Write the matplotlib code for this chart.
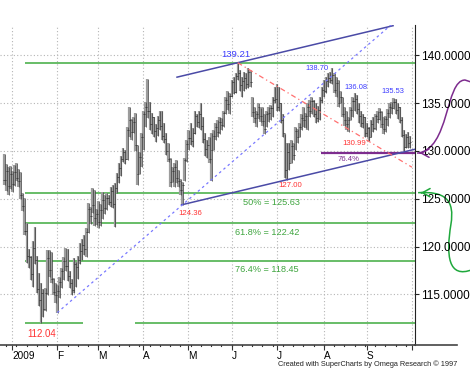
import numpy as np
import pandas as pd
import matplotlib
matplotlib.use("Agg")
import matplotlib.pyplot as plt
from matplotlib.path import Path
from matplotlib.patches import PathPatch
from matplotlib.lines import Line2D
from matplotlib.ticker import FormatStrFormatter, NullLocator

plt.rcdefaults()
plt.rcParams['font.family'] = ['Liberation Sans', 'DejaVu Sans']

# daily bars, late Dec 2008 -> end Sep 2009
dates = pd.bdate_range('2008-12-26', '2009-09-30')

highs = [
    129.7, 128.6, 128.3, 128.4, 127.9, 128.5, 128.7, 128.1, 127.8, 125.6,
    125.1, 122.5, 119.8, 119.0, 120.6, 122.0, 119.0, 117.2, 116.2, 115.6,
    115.7, 119.6, 119.6, 119.4, 116.7, 116.2, 116.0, 116.8, 117.8, 118.9,
    119.9, 119.8, 117.5, 116.6, 118.8, 118.4, 119.0, 120.4, 120.8, 121.2,
    121.9, 124.6, 124.1, 126.1, 125.9, 123.9, 124.8, 124.4, 125.7, 125.4,
    125.6, 125.4, 126.2, 126.4, 126.6, 127.7, 128.7, 129.5, 130.3, 130.1,
    132.5, 134.6, 133.3, 133.5, 134.0, 130.6, 129.9, 131.9, 134.2, 135.1,
    137.5, 135.1, 134.0, 133.5, 132.8, 133.6, 134.2, 134.2, 132.9, 131.9,
    130.8, 129.3, 128.3, 128.7, 129.0, 128.0, 127.1, 126.7, 129.3, 131.1,
    132.2, 132.9, 132.4, 134.2, 133.9, 134.2, 135.0, 133.5, 131.9, 131.1,
    131.4, 131.9, 132.2, 132.9, 133.2, 133.5, 133.4, 134.2, 135.6, 136.3,
    136.0, 137.4, 137.7, 138.1, 139.21, 138.4, 137.7, 138.2, 138.1, 138.7,
    138.4, 135.6, 134.6, 134.2, 135.0, 134.5, 134.6, 133.9, 134.2, 134.6,
    134.8, 135.6, 136.7, 137.0, 136.7, 135.0, 133.9, 131.8, 130.8, 130.8,
    131.1, 130.8, 132.5, 132.3, 132.9, 133.9, 134.6, 134.0, 135.0, 135.3,
    135.6, 135.3, 135.0, 134.7, 135.6, 136.7, 137.4, 137.7, 138.1, 138.2,
    138.70, 138.1, 137.7, 137.4, 136.3, 135.6, 134.6, 134.2, 133.5, 134.6,
    135.6, 136.08, 135.8, 135.0, 134.2, 133.9, 133.5, 132.9, 132.5, 133.2,
    133.5, 133.9, 134.2, 134.5, 134.2, 133.5, 133.6, 134.4, 135.0, 135.1,
    135.53, 135.4, 135.0, 134.6, 133.5, 132.2, 131.8, 132.0, 131.6,
]

lows = [
    126.4, 125.8, 125.4, 126.0, 125.7, 126.3, 126.8, 126.2, 125.0, 123.7,
    121.2, 118.3, 117.8, 116.5, 115.8, 118.2, 115.2, 113.8, 112.04, 112.6,
    113.3, 114.9, 116.8, 116.2, 114.9, 114.1, 113.1, 114.6, 115.7, 116.5,
    117.5, 116.4, 115.7, 114.9, 115.2, 115.8, 116.6, 118.2, 118.6, 119.1,
    118.9, 121.4, 122.4, 123.5, 122.2, 122.3, 121.9, 122.2, 122.9, 123.4,
    123.8, 124.3, 124.1, 124.0, 122.0, 125.6, 126.6, 127.4, 128.8, 128.6,
    129.0, 131.4, 131.1, 131.9, 130.0, 126.4, 127.6, 128.3, 130.1, 132.5,
    133.4, 132.2, 131.8, 131.4, 130.9, 131.6, 132.2, 131.1, 130.8, 129.6,
    128.8, 126.2, 126.7, 126.2, 126.6, 126.2, 125.4, 124.36, 126.8, 128.8,
    130.1, 130.6, 130.4, 131.8, 132.5, 132.4, 132.2, 130.8, 129.5, 129.3,
    128.7, 126.9, 130.1, 131.1, 131.4, 131.8, 132.2, 132.5, 133.9, 134.3,
    133.9, 135.6, 135.9, 136.0, 137.4, 136.3, 135.6, 136.3, 136.5, 136.6,
    136.7, 133.5, 132.9, 132.5, 133.3, 133.0, 132.6, 131.8, 132.5, 133.0,
    133.2, 133.5, 135.0, 134.2, 134.2, 132.9, 131.5, 127.2, 127.0, 128.0,
    128.7, 129.0, 130.1, 130.8, 131.4, 132.2, 132.5, 132.4, 132.2, 133.5,
    133.9, 133.5, 132.9, 133.0, 133.2, 135.0, 135.6, 136.0, 136.7, 137.1,
    137.0, 136.0, 135.6, 134.6, 135.0, 133.5, 132.6, 132.2, 132.0, 133.2,
    133.5, 134.2, 133.9, 132.9, 132.5, 132.4, 131.4, 131.5, 130.99, 131.4,
    132.0, 132.2, 132.9, 133.2, 132.4, 131.8, 132.0, 132.6, 133.4, 133.9,
    134.4, 133.9, 133.3, 132.9, 131.4, 130.0, 130.3, 130.3, 130.3,
]

closes = [
    127.0, 127.9, 126.3, 127.6, 126.5, 127.8, 127.2, 126.9, 125.4, 124.2,
    121.6, 119.0, 118.9, 117.1, 119.9, 118.6, 115.6, 114.4, 115.2, 113.5,
    115.1, 118.8, 117.6, 116.6, 115.3, 114.9, 115.4, 116.3, 117.4, 118.5,
    118.0, 116.9, 116.2, 115.5, 118.2, 117.9, 118.6, 119.5, 120.2, 119.8,
    121.5, 123.9, 123.2, 124.3, 123.0, 123.4, 122.6, 123.8, 124.9, 124.0,
    125.1, 124.7, 125.8, 124.5, 126.1, 127.3, 128.2, 129.1, 129.9, 129.2,
    132.2, 133.2, 132.0, 133.0, 130.6, 127.6, 129.4, 131.5, 133.8, 134.6,
    134.2, 132.8, 133.5, 132.1, 132.4, 133.2, 132.6, 131.6, 131.2, 130.0,
    129.1, 126.7, 127.9, 128.3, 127.2, 126.9, 125.9, 126.4, 129.0, 130.7,
    131.3, 131.0, 131.9, 133.6, 133.0, 133.8, 132.6, 131.2, 130.2, 130.6,
    129.2, 130.1, 131.6, 132.5, 132.0, 133.0, 132.7, 134.0, 135.3, 134.9,
    135.7, 137.2, 136.2, 137.8, 138.1, 136.9, 137.3, 137.6, 137.0, 138.2,
    137.2, 134.1, 133.4, 133.9, 134.6, 133.6, 133.1, 132.3, 133.8, 134.0,
    134.5, 135.3, 135.4, 134.6, 135.0, 133.2, 131.9, 128.0, 129.9, 128.7,
    130.5, 129.6, 132.1, 131.5, 132.5, 133.4, 133.2, 133.6, 134.6, 134.2,
    135.2, 133.9, 133.4, 134.3, 135.3, 136.4, 136.3, 137.3, 137.6, 137.4,
    137.9, 136.4, 137.1, 135.0, 135.6, 133.9, 133.2, 132.8, 133.2, 134.3,
    135.2, 135.4, 134.4, 133.6, 132.9, 133.5, 131.9, 132.4, 131.4, 132.8,
    132.4, 133.6, 133.3, 134.1, 132.8, 132.3, 133.3, 134.0, 134.6, 134.5,
    135.1, 134.3, 134.6, 133.2, 131.7, 130.4, 131.5, 130.8, 130.9,
]

# retracement levels and marked pivots
fib_levels = [139.21, 125.63, 122.42, 118.45]
fib_texts = ['', '50% = 125.63', '61.8% = 122.42', '76.4% = 118.45']
low_2009 = 112.04
purple_level = 129.76
blue_labels = ['139.21', '138.70', '136.08', '135.53']
red_labels = ['130.99', '127.00', '124.36', '112.04']
month_names = ['2009', 'F', 'M', 'A', 'M', 'J', 'J', 'A', 'S', '']
price_ticks = [115, 120, 125, 130, 135, 140]

df = pd.DataFrame({'high': highs, 'low': lows, 'close': closes}, index=dates)
df['open'] = df['close'].shift(1).fillna(df['close'])
x = np.arange(len(df))

fig = plt.figure(figsize=(4.70, 3.83), dpi=100, facecolor='white')
ax = fig.add_axes([0.0, 0.1005, 0.883, 0.834])
ax.set_facecolor('white')
XMIN, XMAX = -1.95, 200.5
YMIN, YMAX = 109.77, 143.14
ax.set_xlim(XMIN, XMAX)
ax.set_ylim(YMIN, YMAX)

# axes and ticks
month_idx = [int(np.argmax((dates.year == d.year) & (dates.month == d.month)))
             for d in pd.date_range('2009-01-01', '2009-09-01', freq='MS')] + [len(dates)]
ax.set_xticks(month_idx)
ax.set_xticklabels(month_names)
for lab in ax.get_xticklabels():
    lab.set_ha('left')
ax.xaxis.set_minor_locator(NullLocator())
ax.set_yticks(price_ticks)
ax.yaxis.set_minor_locator(NullLocator())
ax.yaxis.tick_right()
ax.yaxis.set_major_formatter(FormatStrFormatter('%.4f'))
ax.tick_params(axis='y', labelsize=8.5, length=3, pad=1.5, color='#222222')
ax.tick_params(axis='x', which='major', labelsize=7.2, length=3.5, pad=1, color='#333333')
ax.xaxis.grid(False, which='both')
ax.yaxis.grid(False, which='both')
for s in ['top', 'left']:
    ax.spines[s].set_visible(False)
ax.spines['right'].set_color('#222222')
ax.spines['bottom'].set_color('#444444')
ax.spines['bottom'].set_linewidth(1.2)
fig.add_artist(Line2D([0.883, 457 / 470], [0.1005, 0.1005], color='#444444', lw=1.2))

# weekly tick marks under the date axis
for w in x[dates.dayofweek == 0]:
    ax.plot([w, w], [YMIN, YMIN - 0.2], color='#333333', lw=0.8, clip_on=False)

# dotted grid at month starts and price levels
ax.vlines(month_idx, YMIN, YMAX, color='#b5b5b5', lw=0.8, linestyles=[(0, (1, 2))], zorder=1)
ax.hlines(price_ticks, XMIN, XMAX, color='#b5b5b5', lw=0.8, linestyles=[(0, (1, 2))], zorder=1)

# fibonacci lines
fib_start = 10.2
for lev in fib_levels:
    ax.hlines(lev, fib_start, XMAX, color='#5cb85c', lw=1.3, zorder=2)
ax.hlines(low_2009, fib_start, 38.5, color='#5cb85c', lw=1.3, zorder=2)
ax.hlines(low_2009, 63.9, XMAX, color='#5cb85c', lw=1.3, zorder=2)
ax.hlines(purple_level, 154.6, XMAX, color='#7d2c8e', lw=1.6, zorder=2)

# price bars
ax.vlines(x, df['low'], df['high'], color='#9c9c9c', lw=1.6, zorder=3)
ax.vlines(x + 0.25, df['low'], df['high'], color='#444444', lw=0.55, zorder=3)
ax.hlines(df['close'], x, x + 0.5, color='#333333', lw=0.6, zorder=4)
ax.hlines(df['open'], x - 0.5, x, color='#333333', lw=0.6, zorder=4)

# trend lines from the pivots
i_hi, i_lo1, i_feb, i_sep = 114, 87, 26, 178
slope = 0.051
ax.plot([84.4, 189.8], [139.21 - slope * (i_hi - 84.4), 139.21 + slope * (189.8 - i_hi)],
        color='#4a4aa6', lw=1.1, zorder=5)
ax.plot([86.6, XMAX], [124.36, 124.36 + slope * (XMAX - 86.6)], color='#4a4aa6', lw=1.1, zorder=5)
s2 = (124.36 - 113.1) / (i_lo1 - i_feb)
ax.plot([i_feb, i_feb + (YMAX - 113.1) / s2], [113.1, YMAX], color='#7878ff',
        lw=0.9, linestyle=(0, (2, 2.5)), zorder=5)
s3 = (130.99 - 139.21) / (i_sep - i_hi)
ax.plot([i_hi, 199], [139.21, 139.21 + s3 * (199 - i_hi)], color='#ff7070',
        lw=0.9, linestyle=(0, (4, 2.5, 1, 2.5)), zorder=5)

# labels
blue = '#3c3cff'
red = '#ff3333'
green = '#3fa53f'
ax.text(113.2, 139.55, blue_labels[0], color=blue, fontsize=6.8, ha='center', va='bottom', zorder=6)
ax.text(152.8, 138.25, blue_labels[1], color=blue, fontsize=5.4, ha='center', va='bottom', zorder=6)
ax.text(171.7, 136.3, blue_labels[2], color=blue, fontsize=5.4, ha='center', va='bottom', zorder=6)
ax.text(189.5, 135.8, blue_labels[3], color=blue, fontsize=5.4, ha='center', va='bottom', zorder=6)
ax.text(170.7, 130.8, red_labels[0], color=red, fontsize=5.6, ha='center', va='center', zorder=6)
ax.text(139.5, 126.4, red_labels[1], color=red, fontsize=5.6, ha='center', va='center', zorder=6)
ax.text(90.7, 123.47, red_labels[2], color=red, fontsize=5.6, ha='center', va='center', zorder=6)
ax.text(18.5, 110.9, red_labels[3], color=red, fontsize=7, ha='center', va='center', zorder=6)
ax.text(116.6, 124.6, fib_texts[1], color=green, fontsize=6.6, ha='left', va='center', zorder=6)
ax.text(112.7, 121.5, fib_texts[2], color=green, fontsize=6.6, ha='left', va='center', zorder=6)
ax.text(112.7, 117.6, fib_texts[3], color=green, fontsize=6.6, ha='left', va='center', zorder=6)
ax.text(168.3, 129.1, '76.4%', color='#7d2c8e', fontsize=5.6, ha='center', va='center', zorder=6)

# hand drawn arrows to the right of the price scale
purple_path = Path([(201.5, purple_level), (217.6, 130.1), (215.1, 137.4), (224.9, 137.4), (228.5, 137.15)],
                   [Path.MOVETO, Path.CURVE4, Path.CURVE4, Path.CURVE4, Path.LINETO])
ax.add_patch(PathPatch(purple_path, fill=False, ec='#7d2c8e', lw=1.1, clip_on=False))
green_path = Path([(202, 125.63), (215.1, 125.8), (220, 124.9), (218, 122.3),
                   (215.6, 119.1), (216.6, 116.6), (228.5, 117.6)],
                  [Path.MOVETO, Path.CURVE4, Path.CURVE4, Path.CURVE4,
                   Path.CURVE4, Path.CURVE4, Path.CURVE4])
ax.add_patch(PathPatch(green_path, fill=False, ec='#1fa83c', lw=1.1, clip_on=False))
for tip, col in [((201.5, purple_level), '#7d2c8e'), ((202, 125.63), '#1fa83c')]:
    ax.annotate('', xy=tip, xytext=(tip[0] + 3, tip[1]), annotation_clip=False,
                arrowprops=dict(arrowstyle='->,head_length=0.55,head_width=0.3', color=col, lw=1.1))

fig.text(457 / 470, 1 - 364 / 383, 'Created with SuperCharts by Omega Research \u00a9 1997',
         fontsize=5.3, ha='right', va='center', color='#222222')

fig.savefig('out.png', dpi=100, facecolor='white')
